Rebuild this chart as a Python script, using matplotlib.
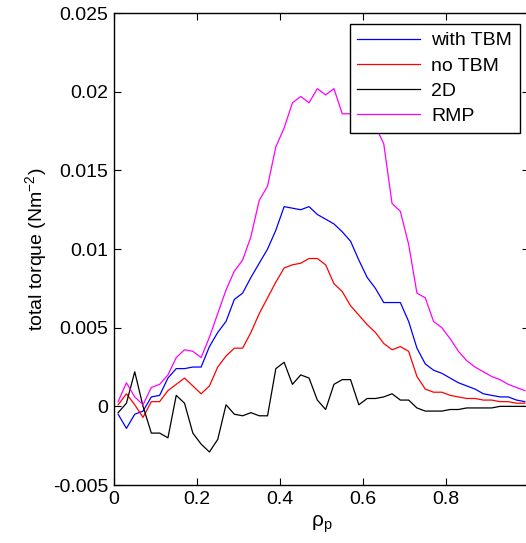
import matplotlib
matplotlib.use("Agg")
import matplotlib.pyplot as plt
import numpy as np

plt.rcParams["font.family"] = ["Liberation Sans", "DejaVu Sans"]

# radial grid (rho_p)
rho = [0.01, 0.03, 0.05, 0.07, 0.09, 0.11, 0.13, 0.15, 0.17, 0.19,
       0.21, 0.23, 0.25, 0.27, 0.29, 0.31, 0.33, 0.35, 0.37, 0.39,
       0.41, 0.43, 0.45, 0.47, 0.49, 0.51, 0.53, 0.55, 0.57, 0.59,
       0.61, 0.63, 0.65, 0.67, 0.69, 0.71, 0.73, 0.75, 0.77, 0.79,
       0.81, 0.83, 0.85, 0.87, 0.89, 0.91, 0.93, 0.95, 0.97, 0.99]

with_tbm = [-0.0005, -0.0014, -0.0005, -0.0003, 0.0006, 0.0007, 0.0018, 0.0024, 0.0024, 0.0025,
            0.0025, 0.0038, 0.0047, 0.0054, 0.0068, 0.0072, 0.0082, 0.0091, 0.0100, 0.0112,
            0.0127, 0.0126, 0.0125, 0.0127, 0.0122, 0.0119, 0.0116, 0.0111, 0.0105, 0.0093,
            0.0082, 0.0075, 0.0066, 0.0066, 0.0066, 0.0054, 0.0037, 0.0027, 0.0023, 0.0021,
            0.0018, 0.0015, 0.0013, 0.0011, 0.0008, 0.0007, 0.0006, 0.0006, 0.0004, 0.0003]

no_tbm = [0.0001, 0.0008, 0.0001, -0.0007, 0.0003, 0.0003, 0.0010, 0.0014, 0.0018, 0.0013,
          0.0008, 0.0013, 0.0025, 0.0032, 0.0037, 0.0037, 0.0047, 0.0059, 0.0069, 0.0079,
          0.0088, 0.0090, 0.0091, 0.0094, 0.0094, 0.0090, 0.0078, 0.0073, 0.0064, 0.0058,
          0.0052, 0.0047, 0.0040, 0.0036, 0.0038, 0.0035, 0.0019, 0.0011, 0.0009, 0.0009,
          0.0007, 0.0006, 0.0005, 0.0005, 0.0004, 0.0004, 0.0003, 0.0003, 0.0002, 0.0002]

two_d = [-0.0004, 0.0002, 0.0022, 0.0000, -0.0017, -0.0017, -0.0020, 0.0007, 0.0002, -0.0017,
         -0.0024, -0.0029, -0.0021, 0.0001, -0.0005, -0.0006, -0.0004, -0.0006, -0.0006, 0.0024,
         0.0028, 0.0014, 0.0020, 0.0018, 0.0004, -0.0002, 0.0014, 0.0017, 0.0017, 0.0001,
         0.0005, 0.0005, 0.0006, 0.0008, 0.0004, 0.0004, -0.0001, -0.0003, -0.0003, -0.0003,
         -0.0002, -0.0002, -0.0001, -0.0001, -0.0001, -0.0001, 0.0000, 0.0000, 0.0000, 0.0000]

rmp = [0.0003, 0.0015, 0.0006, 0.0001, 0.0012, 0.0014, 0.0020, 0.0031, 0.0036, 0.0035,
       0.0031, 0.0044, 0.0059, 0.0074, 0.0086, 0.0093, 0.0108, 0.0131, 0.0140, 0.0165,
       0.0177, 0.0193, 0.0197, 0.0193, 0.0202, 0.0198, 0.0202, 0.0186, 0.0186, 0.0185,
       0.0183, 0.0178, 0.0167, 0.0129, 0.0124, 0.0103, 0.0072, 0.0069, 0.0054, 0.0050,
       0.0043, 0.0035, 0.0029, 0.0025, 0.0022, 0.0019, 0.0017, 0.0014, 0.0012, 0.0010]

x_ticks = [0, 0.2, 0.4, 0.6, 0.8]
y_ticks = [-0.005, 0, 0.005, 0.01, 0.015, 0.02, 0.025]
y_tick_labels = ["-0.005", "0", "0.005", "0.01", "0.015", "0.02", "0.025"]

fig = plt.figure(figsize=(5.26, 5.43), dpi=100)
ax = fig.add_axes([0.2167, 0.1068, 0.789, 0.869])

ax.plot(rho, with_tbm, color="#0000ff", lw=0.9, label="with TBM")
ax.plot(rho, no_tbm, color="#ff0000", lw=0.9, label="no TBM")
ax.plot(rho, two_d, color="#000000", lw=0.9, label="2D")
ax.plot(rho, rmp, color="#ff00ff", lw=0.9, label="RMP")

ax.set_xlim(0, 1)
ax.set_ylim(-0.005, 0.025)
ax.set_xticks(x_ticks)
ax.set_xticklabels(["0", "0.2", "0.4", "0.6", "0.8"])
ax.set_yticks(y_ticks)
ax.set_yticklabels(y_tick_labels)
ax.tick_params(direction="in", top=True, right=True, length=5, width=0.8,
               labelsize=14, pad=4)
for s in ax.spines.values():
    s.set_linewidth(1.0)

ax.set_xlabel(r"$\mathregular{\rho_p}$", fontsize=15, labelpad=4)
ax.set_ylabel(r"total torque (Nm$\mathregular{^{-2}}$)", fontsize=14, labelpad=3)

leg = ax.legend(loc="upper right", bbox_to_anchor=(0.9886, 0.9558),
                bbox_transform=fig.transFigure, borderaxespad=0,
                fontsize=14, handlelength=3.2, labelspacing=0.39,
                handletextpad=0.6, borderpad=0.4, fancybox=False,
                framealpha=1)
leg.get_frame().set_edgecolor("black")
leg.get_frame().set_linewidth(1.0)

fig.savefig("out.png", dpi=100)
